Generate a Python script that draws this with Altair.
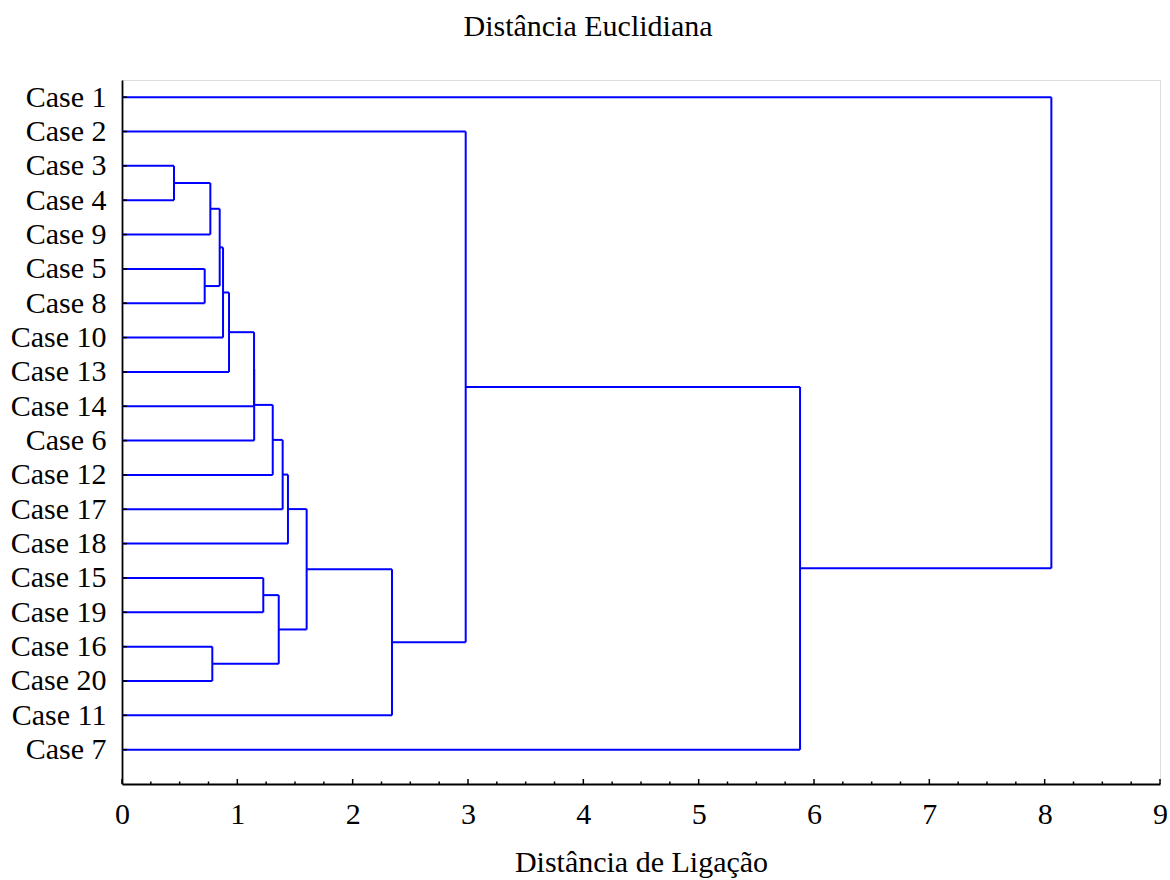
import json
import altair as alt
import pandas as pd

# Leaf order (top to bottom) as shown in the tree diagram
leaves = ["Case 1", "Case 2", "Case 3", "Case 4", "Case 9", "Case 5", "Case 8",
          "Case 10", "Case 13", "Case 14", "Case 6", "Case 12", "Case 17",
          "Case 18", "Case 15", "Case 19", "Case 16", "Case 20", "Case 11", "Case 7"]

# Agglomeration schedule: merge k joins merge_left[k] and merge_right[k] at merge_height[k]
merge_left = ["Case 3", "Case 5", "m0", "Case 16", "m2", "m4", "m5", "m6", "m7",
              "Case 15", "m8", "m9", "m10", "m12", "m13", "m14", "Case 2", "m16", "Case 1"]
merge_right = ["Case 4", "Case 8", "Case 9", "Case 20", "m1", "Case 10", "Case 13",
               "Case 14", "Case 6", "Case 19", "Case 12", "m3", "Case 17", "Case 18",
               "m11", "Case 11", "m15", "Case 7", "m17"]
merge_height = [0.451, 0.717, 0.766, 0.783, 0.847, 0.876, 0.928, 1.145, 1.146,
                1.225, 1.307, 1.359, 1.393, 1.439, 1.601, 2.341, 2.980, 5.879, 8.058]

major_ticks = [0, 1, 2, 3, 4, 5, 6, 7, 8, 9]
minor_steps = [0.25, 0.5, 0.75]

# Build dendrogram segments from the schedule
pos = {name: float(i) for i, name in enumerate(leaves)}
hgt = {name: 0.0 for name in leaves}
rows = []
for k, (l, r, h) in enumerate(zip(merge_left, merge_right, merge_height)):
    rows.append({"x": hgt[l], "x2": h, "y": pos[l], "y2": pos[l]})
    rows.append({"x": hgt[r], "x2": h, "y": pos[r], "y2": pos[r]})
    rows.append({"x": h, "x2": h, "y": pos[l], "y2": pos[r]})
    node = "m%d" % k
    pos[node] = (pos[l] + pos[r]) / 2.0
    hgt[node] = h
segs = pd.DataFrame(rows)

ticks_major = pd.DataFrame({"x": major_ticks})
ticks_minor = pd.DataFrame({"x": [m + s for m in major_ticks[:-1] for s in minor_steps]})
leaf_ticks = pd.DataFrame({"y": [float(i) for i in range(len(leaves))]})

FONT = "Liberation Serif"
W, H = 1038, 704

xscale = alt.Scale(domain=[0, 9], nice=False, zero=False)
yscale = alt.Scale(domain=[-0.5, 20], reverse=True, nice=False, zero=False)

label_expr = json.dumps(leaves) + "[datum.value]"

xaxis = alt.Axis(values=major_ticks, format="d", title="Distância de Ligação",
                 ticks=False, tickSize=0, grid=False, domainColor="#000000",
                 domainWidth=1.8, labelFont=FONT, labelFontSize=30,
                 labelColor="#000000", labelPadding=15, titleFont=FONT,
                 titleFontSize=30, titleFontWeight="normal", titleColor="#000000",
                 titlePadding=18, labelFlush=False, labelOverlap=False)
yaxis = alt.Axis(values=list(range(len(leaves))), labelExpr=label_expr, title=None,
                 ticks=False, tickSize=0, grid=False, domainColor="#000000",
                 domainWidth=1.8, labelFont=FONT, labelFontSize=30,
                 labelColor="#000000", labelPadding=16, labelBaseline="middle",
                 labelFlush=False, labelOverlap=False, labelBound=False)

tree = alt.Chart(segs).mark_rule(color="#0000ff", strokeWidth=2).encode(
    x=alt.X("x:Q", scale=xscale, axis=xaxis),
    x2="x2:Q",
    y=alt.Y("y:Q", scale=yscale, axis=yaxis),
    y2="y2:Q",
)

maj = alt.Chart(ticks_major).mark_rule(color="#000000", strokeWidth=1.5).encode(
    x=alt.X("x:Q", scale=xscale, axis=xaxis), y=alt.value(H), y2=alt.value(H - 5))
mino = alt.Chart(ticks_minor).mark_rule(color="#000000", strokeWidth=1.5).encode(
    x=alt.X("x:Q", scale=xscale, axis=xaxis), y=alt.value(H), y2=alt.value(H - 2.5))
lt = alt.Chart(leaf_ticks).mark_rule(color="#000000", strokeWidth=1.5).encode(
    y=alt.Y("y:Q", scale=yscale, axis=yaxis), x=alt.value(0), x2=alt.value(5))

chart = alt.layer(tree, maj, mino, lt).properties(
    width=W, height=H,
    title=alt.TitleParams("Distância Euclidiana", font=FONT, fontSize=30,
                          fontWeight="normal", color="#000000", anchor="middle",
                          dx=-53, baseline="alphabetic", offset=14),
    autosize=alt.AutoSizeParams(type="none"),
    padding={"left": 122, "top": 80, "right": 10, "bottom": 96},
).configure_view(stroke=None).configure(background="#ffffff")

chart.save("out.html", embed_options={"renderer": "svg", "actions": False})
